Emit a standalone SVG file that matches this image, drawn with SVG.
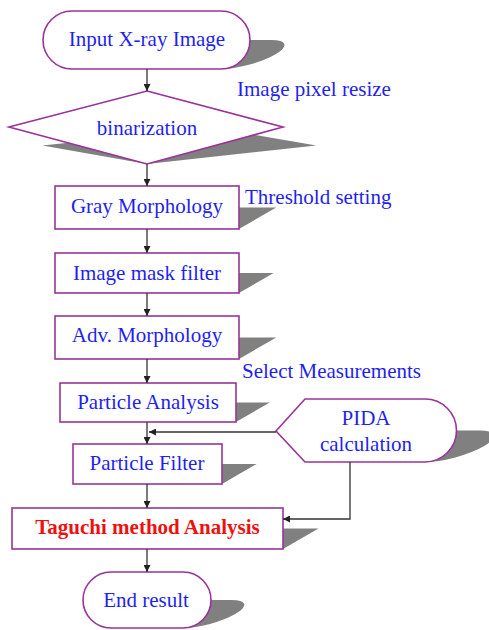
<svg xmlns="http://www.w3.org/2000/svg" width="489" height="630" viewBox="0 0 489 630">
<style>
.sh{fill:#808080;stroke:none}
.nd{fill:#ffffff;stroke:#993399;stroke-width:1.6}
.t{font-family:"Liberation Serif","Times New Roman",serif;font-size:21px;fill:#1f1ff0;text-anchor:middle}
.lb{font-family:"Liberation Serif","Times New Roman",serif;font-size:21px;fill:#1f1ff0}
.red{fill:#ee1111;font-weight:bold}
.c{fill:none;stroke:#333333;stroke-width:1.3}
</style>
<defs>
<marker id="ah" viewBox="0 0 10 10" refX="10" refY="5" markerWidth="7" markerHeight="7" markerUnits="userSpaceOnUse" orient="auto">
<path d="M0,0 L10,5 L0,10 Z" fill="#222222"/>
</marker>
</defs>
<g id="input">
<rect class="sh" x="43" y="11" width="207" height="58" rx="29" transform="translate(0 69) skewX(-60) scale(1 0.5) translate(0 -69)"/>
<rect class="nd" x="43" y="11" width="207" height="58" rx="29"/>
<text class="t" x="147" y="46">Input X-ray Image</text>
</g>
<g id="binarization">
<polygon class="sh" points="147,91 283,127 147,164 9,127" transform="translate(0 164) skewX(-61) scale(1 0.5) translate(0 -164)"/>
<polygon class="nd" points="147,91 283,127 147,164 9,127"/>
<text class="t" x="147" y="135">binarization</text>
</g>
<g id="gray">
<rect class="sh" x="55" y="186" width="184" height="43" transform="translate(0 229) skewX(-60) scale(1 0.5) translate(0 -229)"/>
<rect class="nd" x="55" y="186" width="184" height="43"/>
<text class="t" x="147" y="213">Gray Morphology</text>
</g>
<g id="mask">
<rect class="sh" x="55" y="253" width="184" height="40" transform="translate(0 293) skewX(-60) scale(1 0.5) translate(0 -293)"/>
<rect class="nd" x="55" y="253" width="184" height="40"/>
<text class="t" x="147" y="280">Image mask filter</text>
</g>
<g id="adv">
<rect class="sh" x="55" y="316" width="184" height="43" transform="translate(0 359) skewX(-60) scale(1 0.5) translate(0 -359)"/>
<rect class="nd" x="55" y="316" width="184" height="43"/>
<text class="t" x="147" y="342">Adv. Morphology</text>
</g>
<g id="particle-analysis">
<rect class="sh" x="60" y="383" width="176" height="39" transform="translate(0 422) skewX(-60) scale(1 0.5) translate(0 -422)"/>
<rect class="nd" x="60" y="383" width="176" height="39"/>
<text class="t" x="148" y="409">Particle Analysis</text>
</g>
<g id="pida">
<path class="sh" d="M276,431 L305,399 L425,399 A31.5,31.5 0 0 1 425,462 L305,462 Z" transform="translate(0 462) skewX(-60) scale(1 0.5) translate(0 -462)"/>
<path class="nd" d="M276,431 L305,399 L425,399 A31.5,31.5 0 0 1 425,462 L305,462 Z"/>
<text class="t" x="366" y="425">PIDA</text>
<text class="t" x="366" y="451">calculation</text>
</g>
<g id="particle-filter">
<rect class="sh" x="73" y="444" width="149" height="40" transform="translate(0 484) skewX(-60) scale(1 0.5) translate(0 -484)"/>
<rect class="nd" x="73" y="444" width="149" height="40"/>
<text class="t" x="147" y="470">Particle Filter</text>
</g>
<g id="taguchi">
<rect class="sh" x="12" y="508" width="271" height="41" transform="translate(0 549) skewX(-60) scale(1 0.5) translate(0 -549)"/>
<rect class="nd" x="12" y="508" width="271" height="41"/>
<text class="t red" x="147.5" y="534">Taguchi method Analysis</text>
</g>
<g id="end">
<rect class="sh" x="83" y="572" width="128" height="56" rx="28" transform="translate(0 628) skewX(-60) scale(1 0.5) translate(0 -628)"/>
<rect class="nd" x="83" y="572" width="128" height="56" rx="28"/>
<text class="t" x="146" y="607">End result</text>
</g>
<g id="labels">
<text class="lb" x="237" y="96">Image pixel resize</text>
<text class="lb" x="245" y="204">Threshold setting</text>
<text class="lb" x="242" y="378">Select Measurements</text>
</g>
<g id="connectors">
<line class="c" x1="147" y1="69" x2="147" y2="91" marker-end="url(#ah)"/>
<line class="c" x1="147" y1="164" x2="147" y2="186" marker-end="url(#ah)"/>
<line class="c" x1="147" y1="229" x2="147" y2="253" marker-end="url(#ah)"/>
<line class="c" x1="147" y1="293" x2="147" y2="316" marker-end="url(#ah)"/>
<line class="c" x1="147" y1="359" x2="147" y2="383" marker-end="url(#ah)"/>
<line class="c" x1="147" y1="422" x2="147" y2="444" marker-end="url(#ah)"/>
<line class="c" x1="276" y1="432" x2="149" y2="432" marker-end="url(#ah)"/>
<line class="c" x1="147" y1="484" x2="147" y2="508" marker-end="url(#ah)"/>
<polyline class="c" points="350,462 350,519 283,519" marker-end="url(#ah)"/>
<line class="c" x1="147" y1="549" x2="147" y2="572" marker-end="url(#ah)"/>
</g>
</svg>
